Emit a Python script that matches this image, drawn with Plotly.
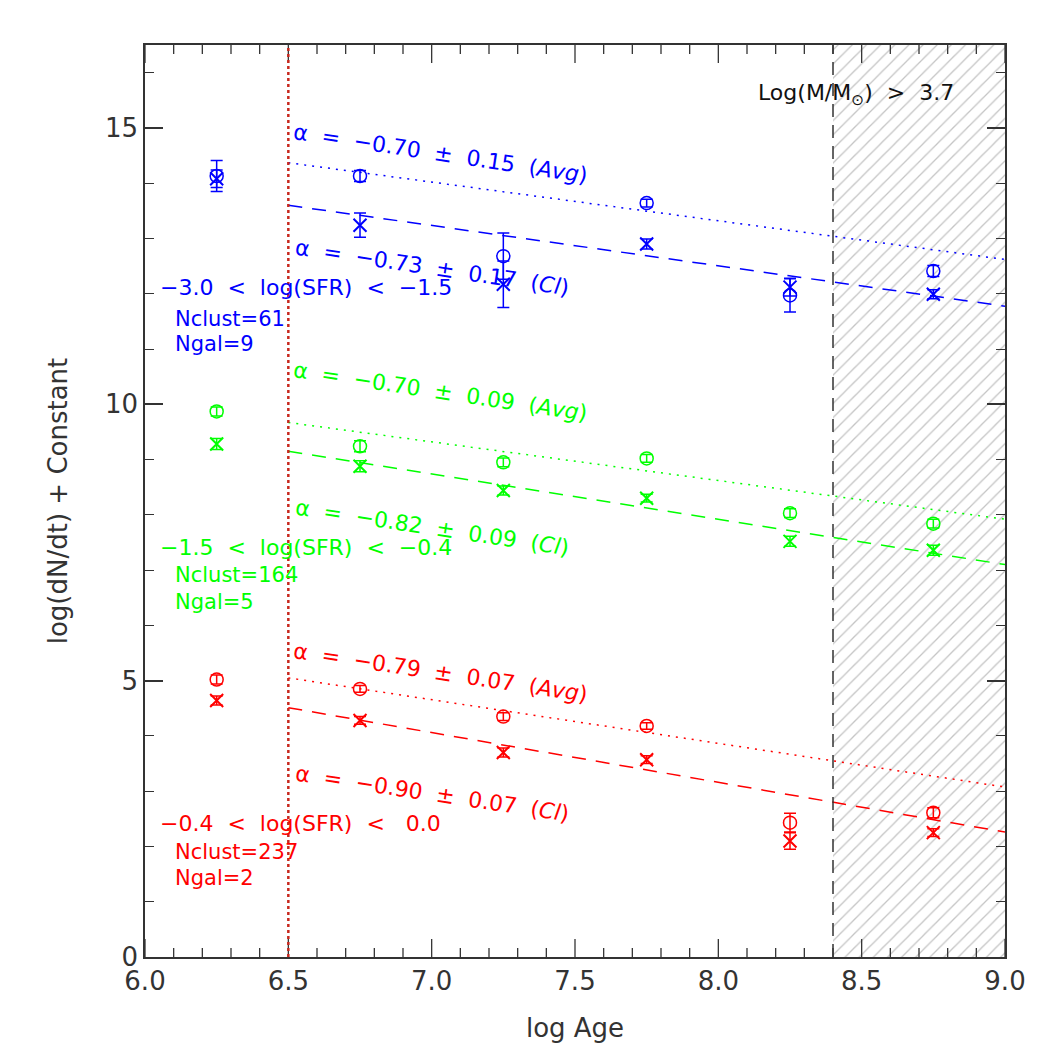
import plotly.graph_objects as go

# ---------------- data ----------------
ages = [6.25, 6.75, 7.25, 7.75, 8.25, 8.75]

blue_avg = [14.13, 14.13, 12.68, 13.64, 11.97, 12.41]
blue_avg_err = [0.28, 0.10, 0.42, 0.07, 0.30, 0.10]
blue_cl = [14.08, 13.24, 12.17, 12.90, 12.12, 11.99]
blue_cl_err = [0.16, 0.22, 0.42, 0.09, 0.16, 0.08]

green_avg = [9.87, 9.24, 8.95, 9.02, 8.03, 7.84]
green_avg_err = [0.08, 0.10, 0.08, 0.07, 0.08, 0.08]
green_cl = [9.28, 8.88, 8.44, 8.30, 7.52, 7.36]
green_cl_err = [0.10, 0.10, 0.08, 0.07, 0.09, 0.09]

red_avg = [5.02, 4.85, 4.35, 4.18, 2.43, 2.61]
red_avg_err = [0.08, 0.06, 0.07, 0.06, 0.17, 0.09]
red_cl = [4.64, 4.28, 3.70, 3.57, 2.10, 2.25]
red_cl_err = [0.08, 0.07, 0.08, 0.07, 0.15, 0.07]

# fits: value at log Age = 6.5 and slope alpha
fit_x = [6.5, 9.0]
blue_avg_fit = (14.37, -0.70)
blue_cl_fit = (13.60, -0.73)
green_avg_fit = (9.67, -0.70)
green_cl_fit = (9.15, -0.82)
red_avg_fit = (5.05, -0.79)
red_cl_fit = (4.51, -0.90)

alpha_labels = {
    "blue": ["α  =  −0.70  ±  0.15  (<i>Avg</i>)", "α  =  −0.73  ±  0.17  (<i>Cl</i>)"],
    "green": ["α  =  −0.70  ±  0.09  (<i>Avg</i>)", "α  =  −0.82  ±  0.09  (<i>Cl</i>)"],
    "red": ["α  =  −0.79  ±  0.07  (<i>Avg</i>)", "α  =  −0.90  ±  0.07  (<i>Cl</i>)"],
}
sfr_labels = {
    "blue": ["−3.0  <  log(SFR)  <  −1.5", "Nclust=61", "Ngal=9"],
    "green": ["−1.5  <  log(SFR)  <  −0.4", "Nclust=164", "Ngal=5"],
    "red": ["−0.4  <  log(SFR)  <   0.0", "Nclust=237", "Ngal=2"],
}

age_cut = 6.5
mass_cut_age = 8.4
x_range = [6.0, 9.0]
y_range = [0, 16.5]
x_major_ticks = [6.0, 6.5, 7.0, 7.5, 8.0, 8.5, 9.0]
x_tick_text = ["6.0", "6.5", "7.0", "7.5", "8.0", "8.5", "9.0"]
x_minor_ticks = [round(6.0 + 0.1 * i, 1) for i in range(31)]
y_minor_ticks = list(range(0, 17))

COL = {"blue": "#0000ff", "green": "#00ff00", "red": "#ff0000"}
FONT = "DejaVu Sans"
AXC = "#333333"

# plot height in px -> data units per pixel on y (for tick lengths)
PLOT_H = 1050 - 45 - 93
Y_PER_PX = (y_range[1] - y_range[0]) / PLOT_H

fig = go.Figure()

# hatched region
fig.add_trace(go.Scatter(
    x=[mass_cut_age, x_range[1], x_range[1], mass_cut_age, mass_cut_age],
    y=[y_range[0], y_range[0], y_range[1], y_range[1], y_range[0]],
    mode="lines", line=dict(width=0), fill="toself",
    fillcolor="rgba(0,0,0,0)",
    fillpattern=dict(shape="/", fgcolor="#8a8a8a", bgcolor="rgba(255,255,255,0)",
                     size=10, solidity=0.13),
    hoverinfo="skip", showlegend=False))

series = [
    ("blue", blue_avg, blue_avg_err, blue_cl, blue_cl_err, blue_avg_fit, blue_cl_fit),
    ("green", green_avg, green_avg_err, green_cl, green_cl_err, green_avg_fit, green_cl_fit),
    ("red", red_avg, red_avg_err, red_cl, red_cl_err, red_avg_fit, red_cl_fit),
]

for name, avg, avg_e, cl, cl_e, afit, cfit in series:
    c = COL[name]
    fig.add_trace(go.Scatter(
        x=[fit_x[0], fit_x[1]],
        y=[afit[0], afit[0] + afit[1] * (fit_x[1] - fit_x[0])],
        mode="lines", line=dict(color=c, width=1.5, dash="2px,6px"),
        showlegend=False, hoverinfo="skip"))
    fig.add_trace(go.Scatter(
        x=[fit_x[0], fit_x[1]],
        y=[cfit[0], cfit[0] + cfit[1] * (fit_x[1] - fit_x[0])],
        mode="lines", line=dict(color=c, width=1.5, dash="14px,10px"),
        showlegend=False, hoverinfo="skip"))
    fig.add_trace(go.Scatter(
        x=ages, y=avg, mode="markers",
        marker=dict(symbol="circle-open", size=13, color=c, line=dict(width=1.5, color=c)),
        error_y=dict(type="data", array=avg_e, color=c, thickness=1.5, width=6),
        showlegend=False))
    fig.add_trace(go.Scatter(
        x=ages, y=cl, mode="markers",
        marker=dict(symbol="x-thin-open", size=13, color=c, line=dict(width=2, color=c)),
        error_y=dict(type="data", array=cl_e, color=c, thickness=1.5, width=6),
        showlegend=False))

# x-axis tick marks (bottom and top) as a line trace built from the tick values
tx, ty = [], []
for v in x_minor_ticks:
    ln = (18 if v in x_major_ticks else 9) * Y_PER_PX
    tx += [v, v, None, v, v, None]
    ty += [y_range[0], y_range[0] + ln, None, y_range[1], y_range[1] - ln, None]
fig.add_trace(go.Scatter(x=tx, y=ty, mode="lines", line=dict(color=AXC, width=1.3),
                         hoverinfo="skip", showlegend=False, cliponaxis=False))

# vertical lines
fig.add_shape(type="line", x0=age_cut, x1=age_cut, y0=y_range[0], y1=y_range[1],
              xref="x", yref="y", line=dict(color="#c8281e", width=2.5, dash="dot"))
fig.add_shape(type="line", x0=mass_cut_age, x1=mass_cut_age, y0=y_range[0], y1=y_range[1],
              xref="x", yref="y", line=dict(color=AXC, width=1.5, dash="13px,8px"))

# alpha annotations (centers in data coords)
alpha_pos = {
    "blue": [(7.03, 14.53), (7.0, 12.48)],
    "green": [(7.03, 10.24), (7.0, 7.77)],
    "red": [(7.03, 5.14), (7.0, 2.95)],
}
for name, labs in alpha_labels.items():
    for lab, (xx, yy) in zip(labs, alpha_pos[name]):
        fig.add_annotation(x=xx, y=yy, text=lab, showarrow=False, textangle=8.5,
                           xanchor="center", yanchor="middle",
                           font=dict(family=FONT, size=22, color=COL[name]))

sfr_pos = {
    "blue": [(6.045, 12.12), (6.098, 11.54), (6.098, 11.09)],
    "green": [(6.045, 7.40), (6.098, 6.92), (6.098, 6.43)],
    "red": [(6.045, 2.41), (6.098, 1.90), (6.098, 1.43)],
}
for name, labs in sfr_labels.items():
    for lab, (xx, yy) in zip(labs, sfr_pos[name]):
        fig.add_annotation(x=xx, y=yy, text=lab, showarrow=False,
                           xanchor="left", yanchor="middle",
                           font=dict(family=FONT, size=22 if "<" in lab else 21, color=COL[name]))

fig.add_annotation(x=8.48, y=15.6, text="Log(M/M<sub>⊙</sub>)  >  3.7", showarrow=False,
                   xanchor="center", yanchor="middle",
                   font=dict(family=FONT, size=22, color="#111111"))

fig.update_layout(
    xaxis=dict(range=x_range, tickmode="array", tickvals=x_major_ticks, ticktext=x_tick_text,
               ticks="", showgrid=False, zeroline=False, showline=True, linecolor=AXC, linewidth=1.5,
               mirror=True,
               tickfont=dict(family=FONT, size=26, color=AXC),
               title=dict(text="log Age", font=dict(family=FONT, size=26, color=AXC), standoff=24)),
    yaxis=dict(range=y_range, dtick=5, tick0=0,
               ticks="inside", ticklen=18, tickwidth=1.5, tickcolor=AXC,
               showgrid=False, zeroline=False, showline=True, linecolor=AXC, linewidth=1.5,
               mirror="ticks",
               minor=dict(tickmode="array", tickvals=y_minor_ticks, ticks="inside", ticklen=9,
                          tickwidth=1.2, tickcolor=AXC, showgrid=False),
               tickfont=dict(family=FONT, size=26, color=AXC),
               title=dict(text="log(dN/dt) + Constant", font=dict(family=FONT, size=26, color=AXC), standoff=30)),
    width=1050, height=1050,
    margin=dict(l=145, r=45, t=45, b=93),
    plot_bgcolor="white", paper_bgcolor="white",
    showlegend=False,
)

fig.write_html("out.html")
